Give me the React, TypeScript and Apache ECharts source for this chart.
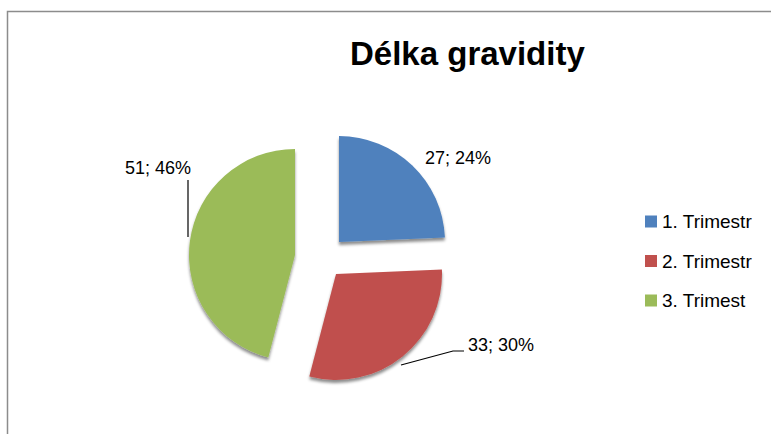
import React, { useEffect, useRef } from "react";
import * as echarts from "echarts";

const categories = ["1. Trimestr", "2. Trimestr", "3. Trimest"];
const values = [27, 33, 51];
const colors = ["#4F81BD", "#C0504D", "#9BBB59"];
const titleText = "Délka gravidity";

// per-slice exploded centers (apex positions) in px
const sliceCenters: [number, number][] = [
  [339, 242],
  [336, 274],
  [295, 255],
];
const labelPos: { x: number; y: number; align: string }[] = [
  { x: 425, y: 158, align: "left" },
  { x: 468, y: 345, align: "left" },
  { x: 191, y: 168, align: "right" },
];
const labelLines: (number[][] | null)[] = [
  null,
  [
    [401, 365],
    [453, 351],
    [464, 351],
  ],
  [
    [188, 237],
    [188, 180],
  ],
];

export default function App() {
  const ref = useRef<HTMLDivElement>(null);
  useEffect(() => {
    if (!ref.current) return;
    const chart = echarts.init(ref.current, null, { renderer: "svg" });
    const font = "'Liberation Sans', Arial, sans-serif";
    const series = categories.map((_, si) => ({
      type: "pie",
      radius: 106,
      center: sliceCenters[si],
      startAngle: 90,
      clockwise: true,
      silent: true,
      percentPrecision: 0,
      avoidLabelOverlap: false,
      data: categories.map((name, i) => ({
        name,
        value: values[i],
        itemStyle:
          i === si
            ? {
                color: colors[i],
                shadowColor: "rgba(0,0,0,0.45)",
                shadowBlur: 3,
                shadowOffsetY: 3,
              }
            : { color: "rgba(0,0,0,0)" },
        label: { show: i === si },
        labelLine: { show: i === si && labelLines[si] !== null },
      })),
      label: {
        position: "outside",
        formatter: "{c}; {d}%",
        fontFamily: font,
        fontSize: 18,
        color: "#000",
      },
      labelLine: {
        lineStyle: { color: "#000", width: 1.2 },
      },
      labelLayout: () => {
        const lp = labelPos[si];
        const o: any = {
          x: lp.x,
          y: lp.y,
          align: lp.align,
          verticalAlign: "middle",
        };
        if (labelLines[si]) o.labelLinePoints = labelLines[si];
        return o;
      },
    }));
    chart.setOption({
      animation: false,
      backgroundColor: "#fff",
      title: {
        text: titleText,
        left: 350,
        top: 37,
        padding: 0,
        textStyle: {
          fontFamily: font,
          fontSize: 33,
          fontWeight: "bold",
          color: "#000",
        },
      },
      legend: {
        orient: "vertical",
        left: 645,
        top: 212,
        itemWidth: 12,
        itemHeight: 12,
        itemGap: 20.5,
        padding: 0,
        icon: "rect",
        selectedMode: false,
        textStyle: { fontFamily: font, fontSize: 19, color: "#000" },
        data: categories.map((name, i) => ({
          name,
          itemStyle: { color: colors[i] },
        })),
      },
      graphic: [
        {
          type: "rect",
          shape: { x: 7.5, y: 11.5, width: 900, height: 600 },
          style: { fill: "none", stroke: "#8c8c8c", lineWidth: 1.5 },
          silent: true,
        },
      ],
      series,
    });
    return () => chart.dispose();
  }, []);
  return (
    <div
      ref={ref}
      style={{ position: "fixed", left: 0, top: 0, width: 771, height: 434 }}
    />
  );
}
